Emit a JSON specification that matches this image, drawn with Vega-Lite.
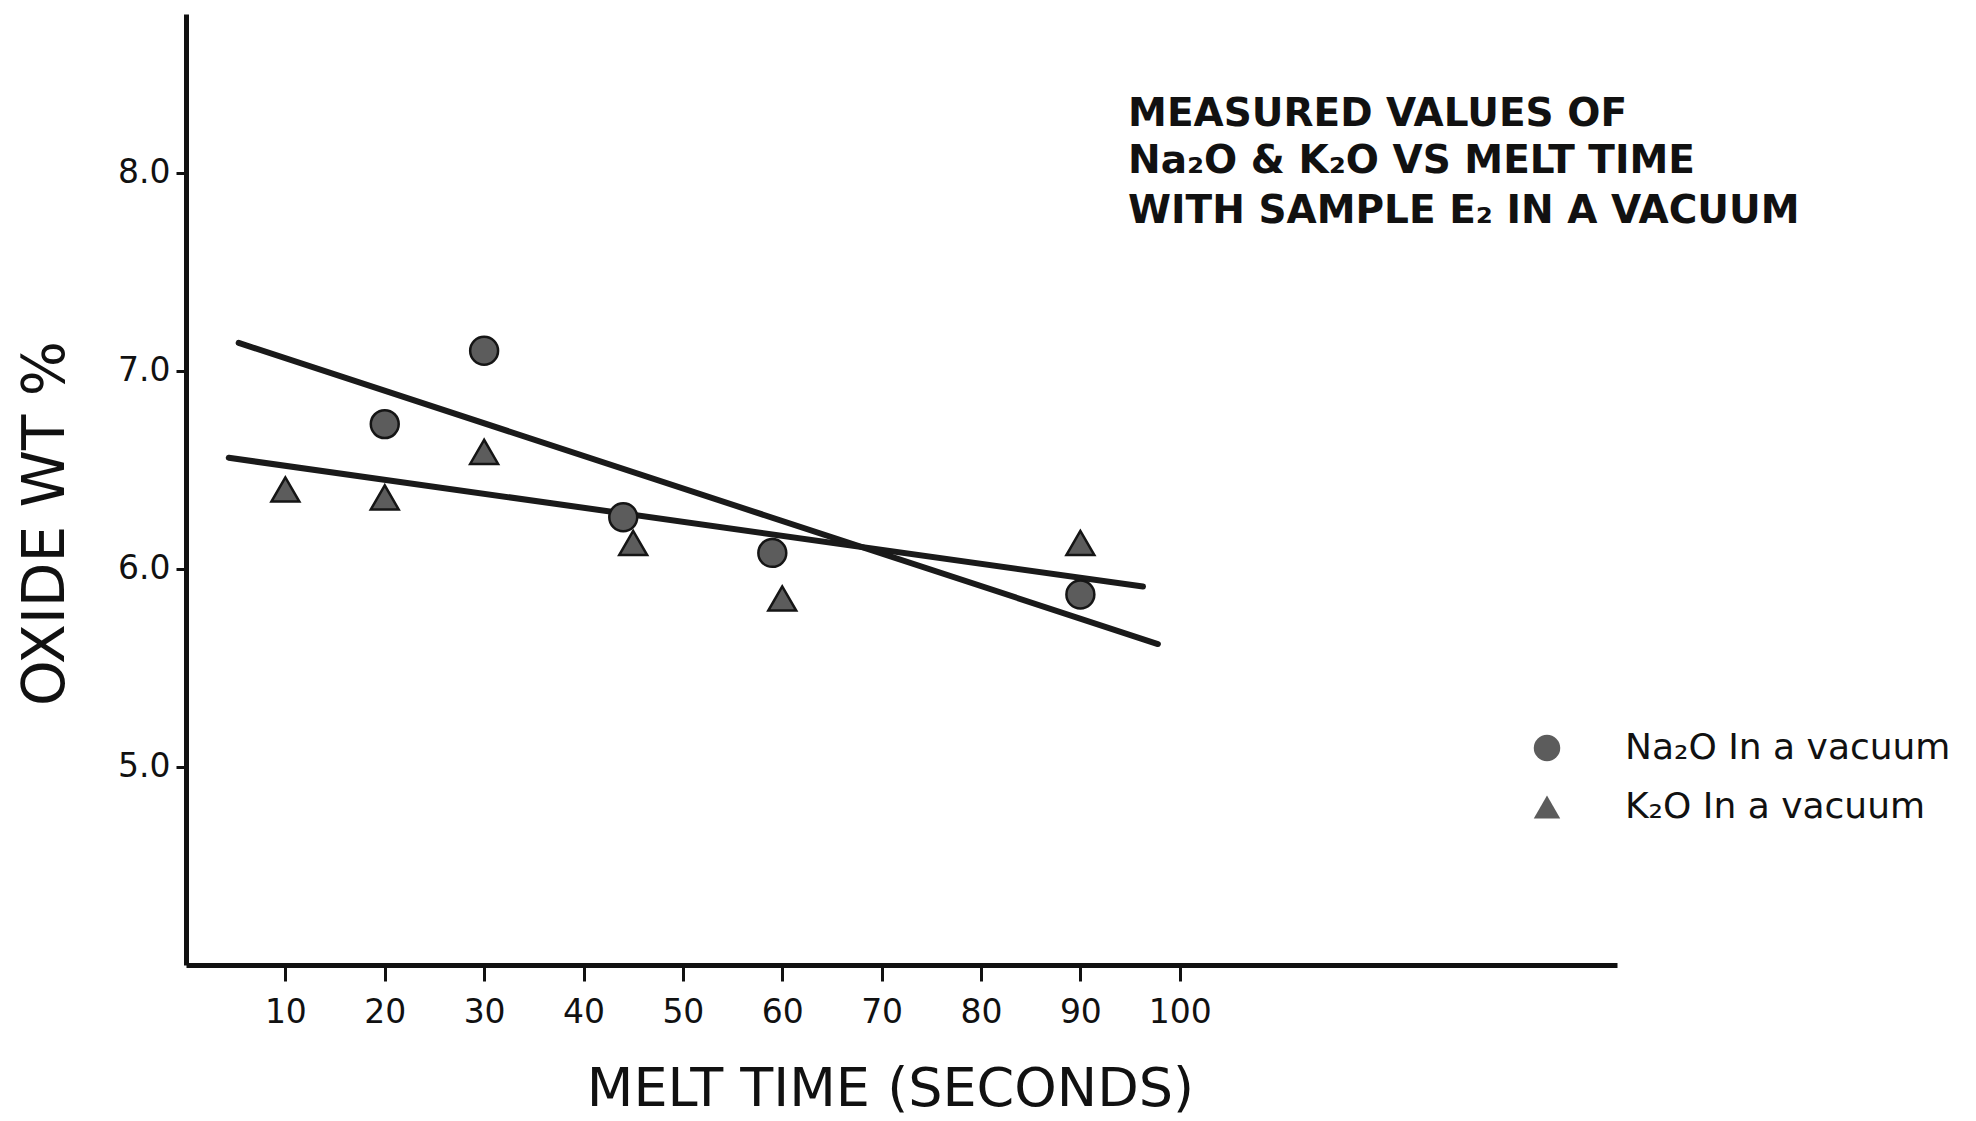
{
  "$schema": "https://vega.github.io/schema/vega-lite/v6.json",
  "width": 1431,
  "height": 951,
  "autosize": "none",
  "padding": {"left": 186, "top": 14, "right": 359, "bottom": 156},
  "background": "white",
  "config": {
    "view": {"stroke": null},
    "font": "DejaVu Sans",
    "axis": {
      "grid": false,
      "domainColor": "#111",
      "domainWidth": 5,
      "tickColor": "#111",
      "tickWidth": 3,
      "labelColor": "#111",
      "titleColor": "#111",
      "labelFont": "DejaVu Sans",
      "titleFont": "DejaVu Sans",
      "titleFontWeight": "normal",
      "labelFontSize": 33
    }
  },
  "datasets": {
    "points": [
      {"series": "Na₂O In a vacuum", "t": 20, "v": 6.73},
      {"series": "Na₂O In a vacuum", "t": 30, "v": 7.10},
      {"series": "Na₂O In a vacuum", "t": 44, "v": 6.26},
      {"series": "Na₂O In a vacuum", "t": 59, "v": 6.08},
      {"series": "Na₂O In a vacuum", "t": 90, "v": 5.87},
      {"series": "K₂O In a vacuum", "t": 10, "v": 6.40},
      {"series": "K₂O In a vacuum", "t": 20, "v": 6.36},
      {"series": "K₂O In a vacuum", "t": 30, "v": 6.59},
      {"series": "K₂O In a vacuum", "t": 45, "v": 6.13},
      {"series": "K₂O In a vacuum", "t": 60, "v": 5.85},
      {"series": "K₂O In a vacuum", "t": 90, "v": 6.13}
    ],
    "fits": [
      {"series": "Na2O", "t": 5.3, "v": 7.14},
      {"series": "Na2O", "t": 97.8, "v": 5.62},
      {"series": "K2O", "t": 4.3, "v": 6.56},
      {"series": "K2O", "t": 96.3, "v": 5.91}
    ],
    "notes": [
      {"t": 94.8, "v": 8.235, "label": "MEASURED VALUES OF"},
      {"t": 94.8, "v": 7.997, "label": "Na₂O & K₂O  VS MELT TIME"},
      {"t": 94.8, "v": 7.745, "label": "WITH SAMPLE E₂ IN A VACUUM"}
    ]
  },
  "encoding": {
    "x": {
      "field": "t",
      "type": "quantitative",
      "scale": {"domain": [0, 144], "nice": false, "zero": false},
      "axis": {
        "values": [10, 20, 30, 40, 50, 60, 70, 80, 90, 100],
        "format": "d",
        "tickSize": 16,
        "labelPadding": 15,
        "title": "MELT TIME (SECONDS)",
        "titleFontSize": 54,
        "titleX": 704,
        "titleY": 124,
        "titleBaseline": "middle",
        "titleAlign": "center"
      }
    },
    "y": {
      "field": "v",
      "type": "quantitative",
      "scale": {"domain": [4, 8.8], "nice": false, "zero": false},
      "axis": {
        "values": [5, 6, 7, 8],
        "format": ".1f",
        "tickSize": 10,
        "labelPadding": 6,
        "title": "OXIDE WT %",
        "titleFontSize": 58,
        "titleX": -140,
        "titleY": 509,
        "titleBaseline": "middle",
        "titleAlign": "center"
      }
    }
  },
  "layer": [
    {
      "data": {"name": "fits"},
      "mark": {"type": "line", "color": "#1a1a1a", "strokeWidth": 6, "strokeCap": "round"},
      "encoding": {"detail": {"field": "series"}}
    },
    {
      "data": {"name": "points"},
      "mark": {"type": "point", "filled": true, "fill": "#5c5c5c", "stroke": "#151515", "strokeWidth": 2.5, "opacity": 1, "fillOpacity": 1, "size": 780},
      "encoding": {
        "shape": {
          "field": "series",
          "type": "nominal",
          "scale": {"domain": ["Na₂O In a vacuum", "K₂O In a vacuum"], "range": ["circle", "triangle-up"]},
          "legend": {
            "title": null,
            "orient": "none",
            "legendX": 1343,
            "legendY": 716,
            "padding": 0,
            "labelFont": "DejaVu Sans",
            "labelFontSize": 36,
            "labelLimit": 0,
            "labelColor": "#111",
            "labelOffset": 60,
            "rowPadding": 22,
            "symbolSize": 700,
            "symbolFillColor": "#5c5c5c",
            "symbolStrokeColor": "#151515",
            "symbolStrokeWidth": 2.5,
            "symbolOpacity": 1
          }
        }
      }
    },
    {
      "data": {"name": "notes"},
      "mark": {"type": "text", "align": "left", "baseline": "alphabetic", "font": "DejaVu Sans", "fontSize": 39, "fontWeight": "bold", "color": "#111", "clip": false},
      "encoding": {"text": {"field": "label"}}
    }
  ]
}
